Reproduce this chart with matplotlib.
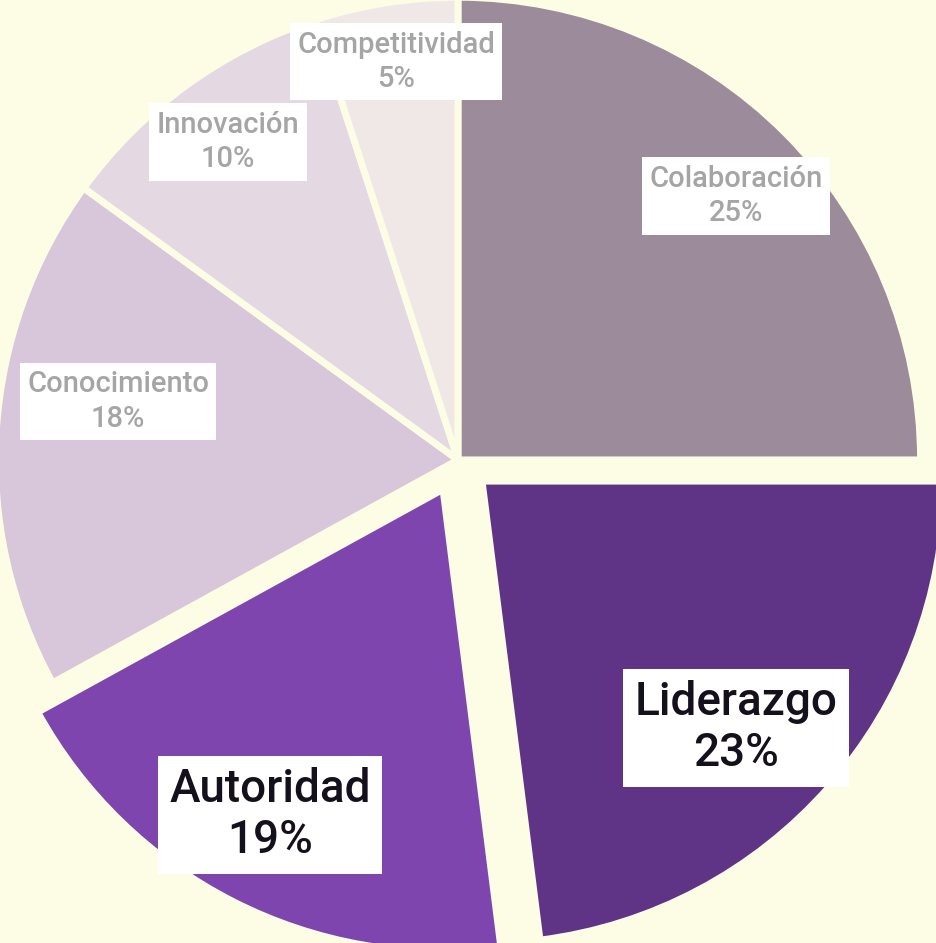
import matplotlib.pyplot as plt

# slices, clockwise from 12 o'clock
categorias = ['Colaboración', 'Liderazgo', 'Autoridad', 'Conocimiento', 'Innovación', 'Competitividad']
porcentajes = [25, 23, 19, 18, 10, 5]

colores = ['#9b8b9b', '#5f3487', '#7e45ae', '#d8c6da', '#e4d8e3', '#efe8e6']
explode = [0, 0.07, 0.072, 0, 0, 0]
fondo = '#fcfde4'

# label box centres (data coords) and style
pos_labels = [(0.607, 0.576), (0.607, -0.585), (-0.410, -0.775),
              (-0.742, 0.127), (-0.502, 0.694), (-0.135, 0.869)]
destacados = ['Liderazgo', 'Autoridad']

fig = plt.figure(figsize=(9.37, 9.43), dpi=100, facecolor=fondo)
ax = fig.add_axes([0, 0, 1, 1])
ax.set_facecolor(fondo)

wedges, _ = ax.pie(porcentajes, colors=colores, explode=explode, startangle=90,
                   counterclock=False, radius=1.01,
                   wedgeprops=dict(edgecolor=fondo, linewidth=5))

for cat, pct, (x, y) in zip(categorias, porcentajes, pos_labels):
    if cat in destacados:
        ax.text(x, y, f'{cat}\n{pct}%', ha='center', va='center', fontsize=33,
                color='#15111c', fontweight='medium', family='Roboto', linespacing=1.2,
                bbox=dict(boxstyle='square,pad=0.25', fc='white', ec='none'))
    else:
        ax.text(x, y, f'{cat}\n{pct}%', ha='center', va='center', fontsize=21,
                color='#a5a5a5', fontweight='medium', family='Roboto', linespacing=1.3,
                bbox=dict(boxstyle='square,pad=0.25', fc='white', ec='none'))

ax.set_xlim(-1.0, 1.0459)
ax.set_ylim(-1.0546, 1.004)
ax.set_aspect('auto')
ax.axis('off')

fig.savefig('out.png', dpi=100, facecolor=fondo)
